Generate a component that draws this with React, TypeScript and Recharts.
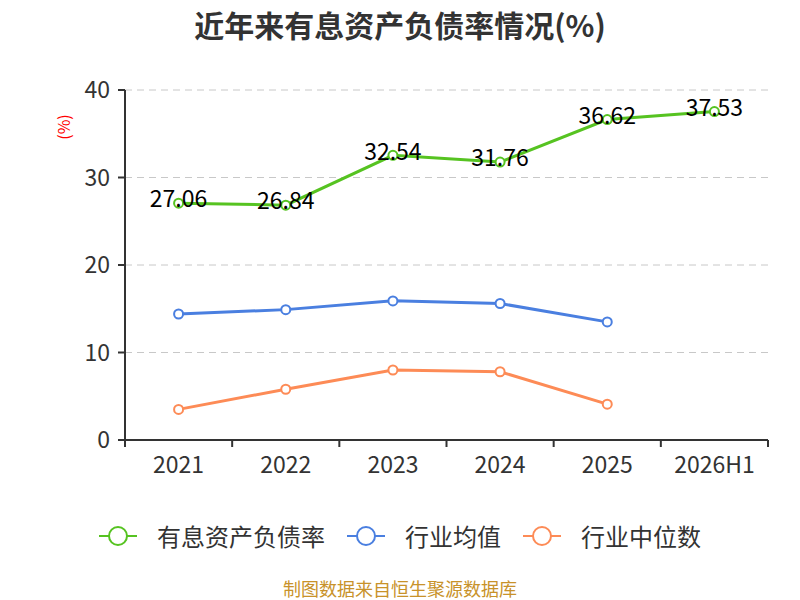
import React from 'react';
import { LineChart, Line, XAxis, YAxis, CartesianGrid, LabelList } from 'recharts';

const categories = ['2021', '2022', '2023', '2024', '2025', '2026H1'];
const debtRatio = [27.06, 26.84, 32.54, 31.76, 36.62, 37.53];
const industryMean = [14.4, 14.9, 15.9, 15.6, 13.5, null];
const industryMedian = [3.5, 5.8, 8.0, 7.8, 4.1, null];
const yTicks = [0, 10, 20, 30, 40];

const SERIES = [
  { key: 'debt', name: '有息资产负债率', color: '#56c321' },
  { key: 'mean', name: '行业均值', color: '#4a7fe0' },
  { key: 'median', name: '行业中位数', color: '#fd8b56' },
];

const data = categories.map((c, i) => ({
  name: c,
  debt: debtRatio[i],
  mean: industryMean[i],
  median: industryMedian[i],
}));

const FONT = '"Noto Sans CJK SC", "Noto Sans", sans-serif';
const WIDTH = 800;
const HEIGHT = 600;
const MARGIN = { top: 90, right: 32, left: 65, bottom: 120 };
const Y_WIDTH = 60;
const PLOT_W = WIDTH - MARGIN.left - MARGIN.right - Y_WIDTH;
const STEP = PLOT_W / categories.length;

// category label in the middle, tick marks on the band edges
function XTick(props: any) {
  const { x, y, payload, index } = props;
  const last = index === categories.length - 1;
  return (
    <g>
      <line x1={x - STEP / 2} y1={y - 8} x2={x - STEP / 2} y2={y - 1} stroke="#333" strokeWidth={2} />
      {last && <line x1={x + STEP / 2} y1={y - 8} x2={x + STEP / 2} y2={y - 1} stroke="#333" strokeWidth={2} />}
      <text x={x} y={y + 25} textAnchor="middle" fill="#333" fontSize={23} fontFamily={FONT}>
        {payload.value}
      </text>
    </g>
  );
}

function Legend() {
  return (
    <div
      style={{
        position: 'absolute',
        top: 520,
        left: 0,
        width: WIDTH,
        display: 'flex',
        justifyContent: 'center',
        alignItems: 'center',
      }}
    >
      {SERIES.map((s, i) => (
        <div key={s.key} style={{ display: 'flex', alignItems: 'center', marginLeft: i === 0 ? 0 : 22 }}>
          <svg width={38} height={24}>
            <line x1={0} y1={12} x2={38} y2={12} stroke={s.color} strokeWidth={2} />
            <circle cx={19} cy={12} r={9} fill="#fff" stroke={s.color} strokeWidth={2} />
          </svg>
          <span style={{ fontSize: 24, color: '#333', marginLeft: 20, lineHeight: '32px' }}>{s.name}</span>
        </div>
      ))}
    </div>
  );
}

function renderValue(props: any) {
  const { x, y, value } = props;
  return (
    <text x={x} y={y - 2} textAnchor="middle" dominantBaseline="middle" fill="#000" fontSize={23} fontFamily={FONT}>
      {Number(value).toFixed(2)}
    </text>
  );
}

export default function App() {
  return (
    <div style={{ position: 'absolute', left: 0, top: 0, width: WIDTH, height: HEIGHT, background: '#fff', fontFamily: FONT, overflow: 'hidden' }}>
      <div style={{ position: 'absolute', top: 2, width: '100%', textAlign: 'center', fontSize: 30, fontWeight: 'bold', color: '#333' }}>
        近年来有息资产负债率情况(%)
      </div>
      <div
        style={{
          position: 'absolute',
          left: 50,
          top: 115,
          width: 26,
          height: 24,
          transform: 'rotate(-90deg)',
          color: '#f00',
          fontSize: 16,
          lineHeight: '24px',
          textAlign: 'center',
        }}
      >
        (%)
      </div>
      <LineChart width={WIDTH} height={HEIGHT} data={data} margin={MARGIN}>
        <CartesianGrid vertical={false} stroke="#c8c8c8" strokeDasharray="7 5" horizontalValues={[10, 20, 30, 40]} />
        <XAxis
          dataKey="name"
          axisLine={{ stroke: '#333', strokeWidth: 2 }}
          tickLine={false}
          tick={<XTick />}
          height={40}
          interval={0}
          padding={{ left: STEP / 2, right: STEP / 2 }}
        />
        <YAxis
          domain={[0, 40]}
          ticks={yTicks}
          width={Y_WIDTH}
          axisLine={{ stroke: '#333', strokeWidth: 2 }}
          tickLine={{ stroke: '#333', strokeWidth: 2 }}
          tickSize={7}
          tick={{ fill: '#333', fontSize: 23, fontFamily: FONT, dx: -6 }}
        />
        {SERIES.map((s) => (
          <Line
            key={s.key}
            dataKey={s.key}
            name={s.name}
            stroke={s.color}
            strokeWidth={3}
            dot={{ r: 4.5, fill: '#fff', stroke: s.color, strokeWidth: 2 }}
            activeDot={false}
            isAnimationActive={false}
          >
            {s.key === 'debt' && <LabelList dataKey="debt" content={renderValue} />}
          </Line>
        ))}
      </LineChart>
      <Legend />
      <div style={{ position: 'absolute', top: 578, width: '100%', textAlign: 'center', fontSize: 18, lineHeight: '20px', color: '#c8922a' }}>
        制图数据来自恒生聚源数据库
      </div>
    </div>
  );
}
